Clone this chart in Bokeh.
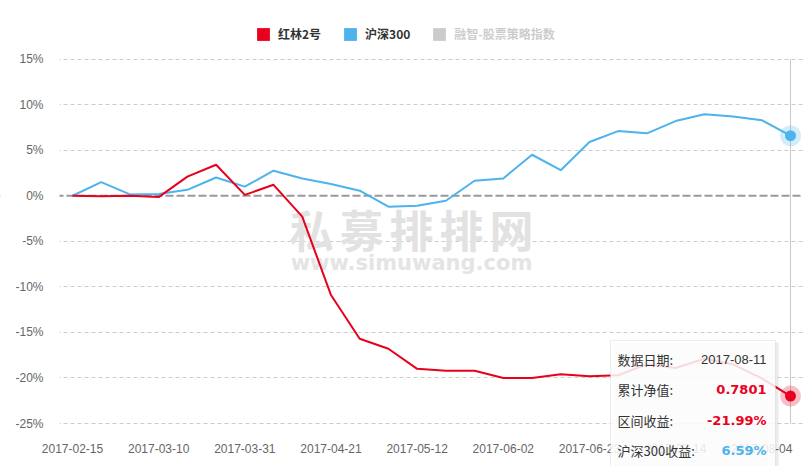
import numpy as np
from bokeh.plotting import figure
from bokeh.models import (FixedTicker, Span, BoxAnnotation, Label, Legend, LegendItem,
                          ColumnDataSource)
from bokeh.core.properties import value
from bokeh.embed import file_html
from bokeh.resources import INLINE

# ---------------- data ----------------
dates = ["2017-02-15", "2017-02-24", "2017-03-03", "2017-03-10", "2017-03-17", "2017-03-24",
         "2017-03-31", "2017-04-07", "2017-04-14", "2017-04-21", "2017-04-28", "2017-05-05",
         "2017-05-12", "2017-05-19", "2017-05-26", "2017-06-02", "2017-06-09", "2017-06-16",
         "2017-06-23", "2017-06-30", "2017-07-07", "2017-07-14", "2017-07-21", "2017-07-28",
         "2017-08-04", "2017-08-11"]
fund = [0.0, -0.05, 0.0, -0.15, 2.1, 3.4, 0.1, 1.2, -2.3, -10.9, -15.7, -16.8, -19.0,
        -19.2, -19.2, -20.0, -20.0, -19.6, -19.8, -19.7, -18.5, -18.9, -17.9, -18.5,
        -20.05, -21.99]
hs300 = [0.0, 1.5, 0.15, 0.2, 0.65, 2.0, 1.0, 2.75, 1.9, 1.3, 0.55, -1.2, -1.1, -0.55,
         1.65, 1.9, 4.5, 2.8, 5.9, 7.1, 6.85, 8.2, 8.95, 8.7, 8.3, 6.59]
series_names = ["红林2号", "沪深300", "融智-股票策略指数"]
y_ticks = [-25, -20, -15, -10, -5, 0, 5, 10, 15]
x_tick_idx = list(range(0, len(dates), 3))
watermark_cn = "私募排排网"
watermark_en = "www.simuwang.com"

RED = "#e8001c"
BLUE = "#4cb3ec"
CJK = "Noto Sans CJK SC"
LAT = "Liberation Sans"

# ---------------- geometry helpers (pixel -> data) ----------------
W, H = 803, 466
PLOT_LEFT = 59
PX_X = 28.72   # px per weekly step
PX_Y = 9.11    # px per 1 %


def dx(px):  # canvas px -> data x
    return (px - 72) / PX_X


def dy(py):  # canvas py -> data y
    return -25 + (423 - py) / PX_Y


idx = list(range(len(dates)))
last = idx[-1]

p = figure(width=W, height=H, output_backend="svg", toolbar_location=None,
           x_range=(dx(0), dx(W)), y_range=(dy(H), dy(0)),
           min_border_left=0, min_border_right=0, min_border_top=0, min_border_bottom=0,
           background_fill_color="white", border_fill_color="white")
p.outline_line_color = None

# axes
p.xaxis.ticker = FixedTicker(ticks=x_tick_idx)
p.xaxis.major_label_overrides = {i: dates[i] for i in x_tick_idx}
p.xaxis.fixed_location = y_ticks[0]
p.yaxis.ticker = FixedTicker(ticks=y_ticks)
p.yaxis.major_label_overrides = {v: f"{v}%" for v in y_ticks}
p.yaxis.fixed_location = dx(PLOT_LEFT)
for ax in (p.xaxis[0], p.yaxis[0]):
    ax.axis_line_color = None
    ax.major_tick_line_color = None
    ax.minor_tick_line_color = None
    ax.major_tick_out = 0
    ax.major_tick_in = 0
    ax.major_label_text_font = LAT
    ax.major_label_text_font_size = "12px"
    ax.major_label_text_color = "#666666"
p.yaxis.major_label_standoff = 16
p.xaxis.major_label_standoff = 20

# grid
p.xgrid.visible = False
p.ygrid.ticker = FixedTicker(ticks=[t for t in y_ticks if t != 0])
p.ygrid.grid_line_color = "#cccccc"
p.ygrid.grid_line_dash = "4 3"
p.ygrid.grid_line_width = 1

zero = Span(location=0, dimension="width", line_color="#999999", line_width=2,
            line_dash="8 3", level="underlay")
p.add_layout(zero)
# keep the grid out of the label gutter on the left
mask = BoxAnnotation(right=dx(PLOT_LEFT), fill_color="white", fill_alpha=1.0,
                     line_color=None, level="underlay")
p.add_layout(mask)

# watermark
wm_x = [dx(311 + 50 * k) for k in range(len(watermark_cn))]
p.text(x=wm_x, y=[dy(228)] * len(watermark_cn), text=list(watermark_cn),
       text_font=value(CJK), text_font_size="44px", text_font_style="bold",
       text_color="#e2e2e2", text_align="center", text_baseline="middle")
p.text(x=[dx(411)], y=[dy(262)], text=[watermark_en], text_font=value("DejaVu Sans"),
       text_font_size="21px", text_font_style="bold", text_color="#e4e4e4",
       text_align="center", text_baseline="middle")

# crosshair
p.segment(x0=[last], y0=[y_ticks[0]], x1=[last], y1=[y_ticks[-1]],
          line_color="#c8c8c8", line_width=1)

# series
src = ColumnDataSource(dict(x=idx, fund=fund, hs=hs300))
p.line("x", "hs", source=src, line_color=BLUE, line_width=2)
p.line("x", "fund", source=src, line_color=RED, line_width=2)

# hover markers at last point
p.scatter(x=[last], y=[hs300[-1]], size=21, fill_color=BLUE, fill_alpha=0.25, line_color=None)
p.scatter(x=[last], y=[hs300[-1]], size=11, fill_color=BLUE, line_color=None)
p.scatter(x=[last], y=[fund[-1]], size=21, fill_color=RED, fill_alpha=0.25, line_color=None)
p.scatter(x=[last], y=[fund[-1]], size=11, fill_color=RED, line_color=None)

# legend (square swatches)
nan = [np.nan]
r1 = p.quad(left=nan, right=nan, top=nan, bottom=nan, fill_color=RED, line_color=None)
r2 = p.quad(left=nan, right=nan, top=nan, bottom=nan, fill_color=BLUE, line_color=None)
r3 = p.quad(left=nan, right=nan, top=nan, bottom=nan, fill_color="#333333", line_color=None)
r3.visible = False
legend = Legend(items=[LegendItem(label=series_names[0], renderers=[r1]),
                       LegendItem(label=series_names[1], renderers=[r2]),
                       LegendItem(label=series_names[2], renderers=[r3])],
                orientation="horizontal", location=(255, H - 42),
                glyph_width=16, glyph_height=16, label_standoff=7, spacing=21,
                padding=0, margin=0, border_line_color=None, background_fill_alpha=0,
                label_text_font=CJK, label_text_font_size="12px",
                label_text_font_style="bold", label_text_color="#333333",
                label_height=16, click_policy="hide",
                inactive_fill_color="white", inactive_fill_alpha=0.75)
p.add_layout(legend)

# tooltip
shadow = BoxAnnotation(left=dx(612), right=dx(778), top=dy(342), bottom=dy(471),
                       fill_color="#000000", fill_alpha=0.08, line_color=None)
box = BoxAnnotation(left=dx(610), right=dx(775), top=dy(340), bottom=dy(468),
                    fill_color="white", fill_alpha=0.85, line_color="#c4c4c4", line_width=1)
p.add_layout(shadow)
p.add_layout(box)

rows_y = [358.5, 388.5, 420, 450]
tip_keys = ["数据日期:", "累计净值:", "区间收益:", "沪深300收益:"]
tip_vals = [dates[-1], f"{1 + fund[-1] / 100:.4f}", f"{fund[-1]:.2f}%", f"{hs300[-1]:.2f}%"]
tip_cols = ["#333333", RED, RED, BLUE]
tip_bold = ["normal", "bold", "bold", "bold"]
for k in range(4):
    p.add_layout(Label(x=dx(617), y=dy(rows_y[k]), text=tip_keys[k], text_font=CJK,
                       text_font_size="13px", text_color="#333333",
                       text_baseline="middle", text_align="left"))
    p.add_layout(Label(x=dx(766), y=dy(rows_y[k]), text=tip_vals[k],
                       text_font=LAT if k == 0 else "DejaVu Sans",
                       text_font_size="13px", text_color=tip_cols[k],
                       text_font_style=tip_bold[k],
                       text_baseline="middle", text_align="right"))

open("out.html", "w").write(file_html(p, INLINE))
